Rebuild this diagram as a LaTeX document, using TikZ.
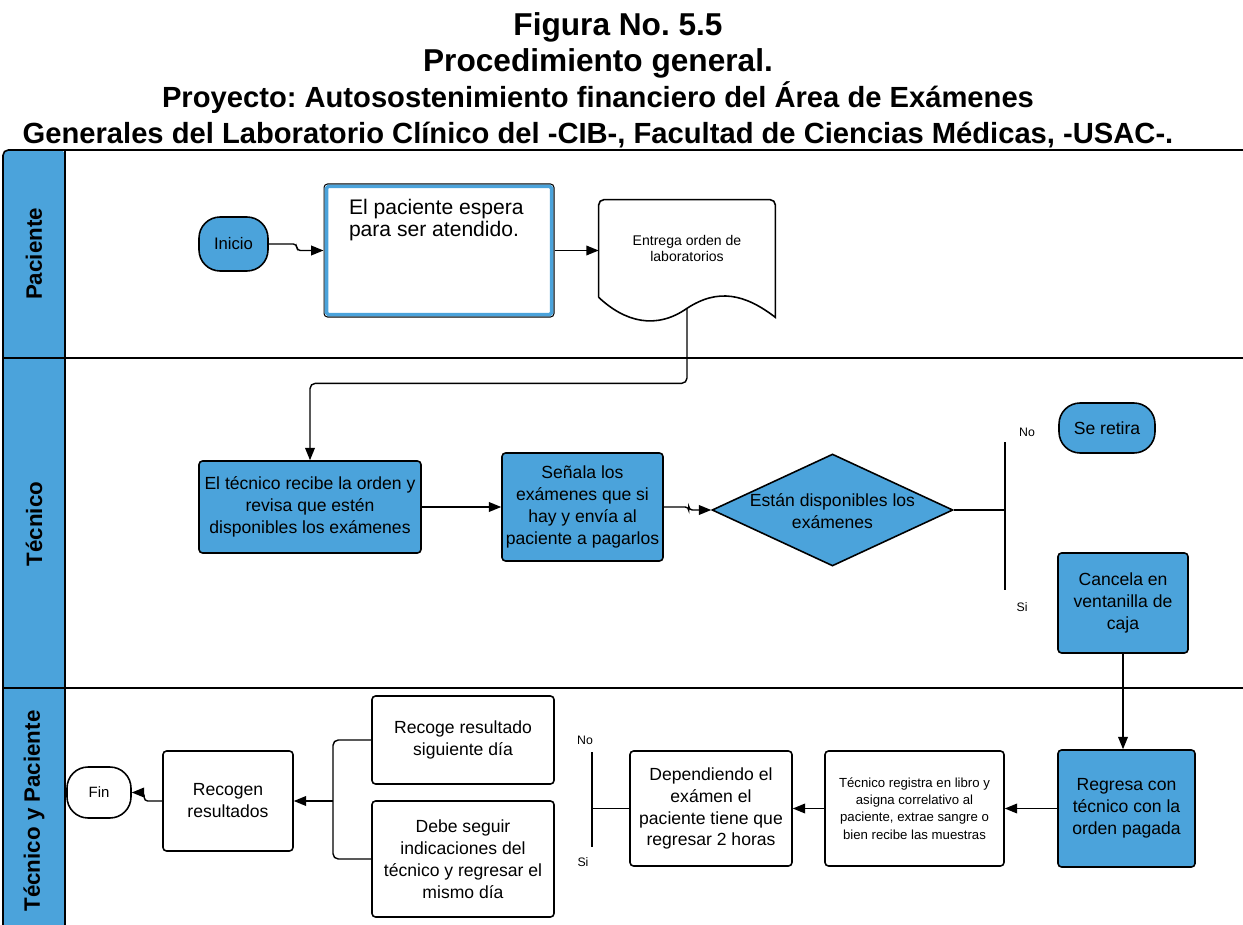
\documentclass[tikz,border=0pt]{standalone}
\usepackage{fontspec}
\setmainfont{Liberation Sans}
\usetikzlibrary{shapes.geometric,arrows.meta,calc}
\definecolor{lanefill}{HTML}{4BA3DB}
\frenchspacing
\begin{document}
\begin{tikzpicture}[x=0.02cm, y=-0.02cm]
        \tikzstyle{every node}=[font=\fontsize{10}{12.5}\selectfont, text=black, align=center]
        \tikzstyle{proc}=[rectangle, rounded corners=2pt, draw=black, line width=0.9pt, fill=lanefill, inner sep=2pt]
        \tikzstyle{procw}=[proc, fill=white]
        \tikzstyle{term}=[rectangle, rounded corners=12pt, draw=black, line width=0.9pt, fill=lanefill]
        \tikzstyle{dec}=[diamond, draw=black, line width=0.9pt, fill=lanefill, inner sep=0pt]
        \tikzstyle{line}=[black, line width=0.8pt]
        \tikzstyle{arr}=[line, -{Triangle[length=7pt,width=5.5pt]}]
        \tikzstyle{lane}=[black, line width=0.9pt]
        \tikzstyle{lanelbl}=[rotate=90, font=\fontsize{12.7}{15}\selectfont\bfseries]
        \tikzstyle{lbl}=[font=\fontsize{7}{8}\selectfont, inner sep=0pt]

        \useasboundingbox (0,0) rectangle (1243,925);

        \node[font=\fontsize{18}{20.5}\selectfont\bfseries, anchor=north] (title) at (598,6) {\hspace*{0.8cm}Figura No. 5.5\\ Procedimiento general.\\ \fontsize{16.6}{21.5}\selectfont Proyecto: Autosostenimiento financiero del Área de Exámenes\\ \fontsize{16.6}{18}\selectfont Generales del Laboratorio Clínico del -CIB-, Facultad de Ciencias Médicas, -USAC-.};

        \fill[lanefill, rounded corners=3pt] (3,925) -- (3,150) -- (65,150) [sharp corners] -- (65,925) -- cycle;
        \draw[lane, rounded corners=3pt] (1243,150) -- (3,150) -- (3,925);
        \draw[lane] (65,150) -- (65,925);
        \draw[lane] (3,358) -- (1243,358);
        \draw[lane] (3,688) -- (1243,688);

        \node[lanelbl] (lp) at (34,254) {Paciente};
        \node[lanelbl] (lt) at (34,524) {Técnico};
        \node[lanelbl] (ltp) at (34,811) {Técnico y Paciente};

        \node[term, minimum width=1.38cm, minimum height=1.08cm, font=\fontsize{9.5}{11}\selectfont] (i) at (233.5,244) {Inicio};
        \node[procw, line width=0.6pt, inner xsep=0.5cm, inner ysep=0.3cm, font=\fontsize{12}{12.5}\selectfont] (w) at (439,250.5) {\begin{minipage}[c][2.06cm][t]{3.6cm}El paciente espera\\para ser atendido.\end{minipage}};
        \draw[lanefill, line width=2pt, rounded corners=1pt] ($(w.north west)+(3,3)$) rectangle ($(w.south east)+(-3,-3)$);
        \node[minimum width=3.52cm, minimum height=1.94cm, font=\fontsize{8}{9.6}\selectfont] (e) at (687,248.5) {Entrega orden de\\laboratorios};
        \coordinate (docb) at ($(e.south)+(0,11)$);
        \draw[line width=0.9pt] (e.south west) [rounded corners=3pt] -- (e.north west) -- (e.north east) [sharp corners] -- ($(e.south east)+(0,20)$) .. controls (745,294) and (718,288) .. (docb) .. controls (656,330) and (625,322) .. (e.south west);

        \node[proc, minimum width=4.44cm, minimum height=1.84cm] (t) at (310,507) {El técnico recibe la orden y\\revisa que estén\\disponibles los exámenes};
        \node[proc, minimum width=3.22cm, minimum height=2.16cm] (s) at (582.5,507) {Señala los\\exámenes que si\\hay y envía al\\paciente a pagarlos};
        \node[dec, minimum width=4.82cm, minimum height=2.24cm] (d) at (832.5,510) {\smash{\makebox[0pt]{\raisebox{-4pt}{\begin{tabular}{@{}c@{}}Están disponibles los\\exámenes\end{tabular}}}}};
        \node[term, minimum width=1.92cm, minimum height=1cm] (x) at (1107,428) {Se retira};
        \node[proc, minimum width=2.6cm, minimum height=2cm] (c) at (1123,603) {Cancela en\\ventanilla de\\caja};
        \node[lbl] (no1) at (1027,432) {No};
        \node[lbl] (si1) at (1022,607) {Si};

        \node[proc, minimum width=2.74cm, minimum height=2.34cm] (r) at (1126.5,808.5) {Regresa con\\técnico con la\\orden pagada};
        \node[procw, minimum width=3.58cm, minimum height=2.3cm, font=\fontsize{7.5}{9.9}\selectfont] (g) at (914.5,808.5) {Técnico registra en libro y\\asigna correlativo al\\paciente, extrae sangre o\\bien recibe las muestras};
        \node[procw, minimum width=3.24cm, minimum height=2.3cm] (p) at (711,808.5) {Dependiendo el\\exámen el\\paciente tiene que\\regresar 2 horas};
        \node[lbl] (no2) at (585,740) {No};
        \node[lbl] (si2) at (583,862) {Si};
        \node[procw, minimum width=3.64cm, minimum height=1.76cm] (rc) at (463,740) {Recoge resultado\\siguiente día};
        \node[procw, minimum width=3.64cm, minimum height=2.32cm] (db) at (463,859) {Debe seguir\\indicaciones del\\técnico y regresar el\\mismo día};
        \node[procw, minimum width=2.6cm, minimum height=2cm] (rs) at (228,801) {Recogen\\resultados};
        \node[term, fill=white, minimum width=1.28cm, minimum height=1.02cm, font=\fontsize{8.5}{10}\selectfont] (f) at (99,792.5) {Fin};

        \draw[arr, rounded corners=2pt] (i.east) -- ++(28,0) |- (w.west);
        \draw[arr] (w.east) -- (w.east -| e.west);
        \coordinate (turn) at ($(docb)+(0,75)$);
        \draw[arr, rounded corners=3pt] (docb) -- (turn) -| (t.north);
        \draw[arr] (t.east) -- (s.west);
        \draw[arr, rounded corners=2pt] (s.east) -- ++(25,0) |- (d.west);

        \coordinate (b1t) at (1005,442);
        \coordinate (b1b) at (1005,590);
        \draw[line] (d.east) -- (d.east -| b1t);
        \draw[line] (b1t) -- (b1b);

        \draw[arr] (c.south) -- (c.south |- r.north);
        \draw[arr] (r.west) -- (g.east);
        \draw[arr] (g.west) -- (p.east);

        \coordinate (b2t) at (592,752);
        \coordinate (b2b) at (592,847);
        \draw[line] (p.west) -- (p.west -| b2t);
        \draw[line] (b2t) -- (b2b);

        \coordinate (b3) at (333,801);
        \draw[line, rounded corners=3pt] (rc.west) -| (b3) |- (db.west);
        \draw[arr] (b3) -- (rs.east);
        \draw[arr, rounded corners=2pt] (rs.west) -- ++(-18,0) |- (f.east);
\end{tikzpicture}
\end{document}
